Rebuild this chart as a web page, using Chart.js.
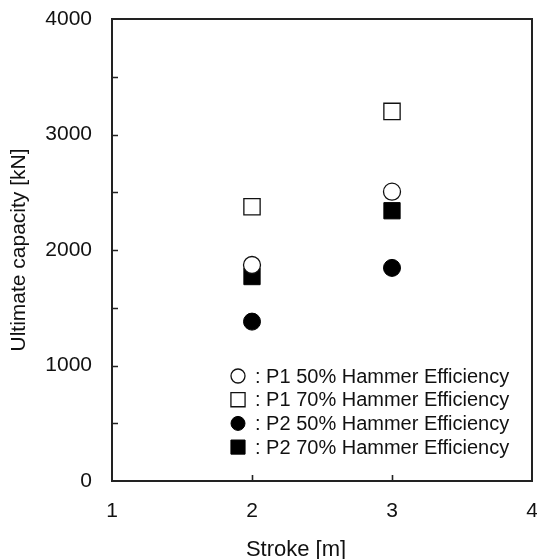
<!DOCTYPE html>
<html>
<head>
<meta charset="utf-8">
<script src="https://cdn.jsdelivr.net/npm/chart.js@4"></script>
<style>
  html, body { margin: 0; padding: 0; background: #fff; }
</style>
</head>
<body>
<canvas id="grafico" width="537" height="559"></canvas>
<script>
// dados
const strokes = [2, 3];
const p1_50 = [1870, 2505];
const p1_70 = [2375, 3200];
const p2_50 = [1380, 1845];
const p2_70 = [1770, 2340];
const seriesLabels = [
  'P1 50% Hammer Efficiency',
  'P1 70% Hammer Efficiency',
  'P2 50% Hammer Efficiency',
  'P2 70% Hammer Efficiency'
];
const xTitle = 'Stroke [m]';
const yTitle = 'Ultimate capacity [kN]';
const xRange = [1, 4];
const yRange = [0, 4000];

const FONT = '"Liberation Sans", Arial, sans-serif';

function pts(ys) {
  return strokes.map((x, i) => ({ x: x, y: ys[i] }));
}

// sem folga extra para os rótulos nas pontas (o "4" fica cortado como no original)
function noPadding(s) {
  s.paddingLeft = s.paddingRight = s.paddingTop = s.paddingBottom = 0;
}

// moldura + marcas para dentro
const framePlugin = {
  id: 'frame',
  afterDatasetsDraw(chart) {
    const { ctx, chartArea: a, scales } = chart;
    ctx.save();
    ctx.strokeStyle = '#222';
    ctx.lineWidth = 1.6;
    ctx.beginPath();
    scales.y.ticks.forEach(t => {
      if (t.value <= yRange[0] || t.value >= yRange[1]) return;
      const y = Math.round(scales.y.getPixelForValue(t.value)) + 0.5;
      ctx.moveTo(a.left, y);
      ctx.lineTo(a.left + 6, y);
    });
    scales.x.ticks.forEach(t => {
      if (t.value <= xRange[0] || t.value >= xRange[1]) return;
      const x = Math.round(scales.x.getPixelForValue(t.value)) + 0.5;
      ctx.moveTo(x, a.bottom);
      ctx.lineTo(x, a.bottom - 6);
    });
    ctx.stroke();
    ctx.lineWidth = 2;
    ctx.strokeRect(a.left, a.top, a.right - a.left, a.bottom - a.top);

    // título do eixo x (no original fica um pouco à esquerda do centro)
    ctx.fillStyle = '#111';
    ctx.font = '22px ' + FONT;
    ctx.textAlign = 'center';
    ctx.textBaseline = 'middle';
    ctx.fillText(xTitle, 296, 550);
    ctx.restore();
  }
};

// legenda dentro da área do gráfico
const legendPlugin = {
  id: 'insideLegend',
  afterDraw(chart) {
    const { ctx, chartArea: a } = chart;
    ctx.save();
    ctx.font = '20px ' + FONT;
    ctx.textBaseline = 'middle';
    chart.data.datasets.forEach((ds, i) => {
      const x = a.right - 294;
      const y = a.bottom - 105 + i * 23.7;
      ctx.fillStyle = ds.backgroundColor;
      ctx.strokeStyle = ds.borderColor;
      ctx.lineWidth = ds.borderWidth;
      Chart.helpers.drawPoint(ctx, {
        pointStyle: ds.pointStyle,
        radius: ds.pointStyle === 'rect' ? 10 : 7,
        borderWidth: ds.borderWidth
      }, x, y);
      ctx.fillStyle = '#111';
      ctx.fillText(': ' + ds.label, x + 17, y + 1);
    });
    ctx.restore();
  }
};

const ctx = document.getElementById('grafico').getContext('2d');
const chart = new Chart(ctx, {
  type: 'scatter',
  data: {
    datasets: [
      { label: seriesLabels[0], data: pts(p1_50), pointStyle: 'circle', pointRadius: 8.5,
        backgroundColor: '#fff', borderColor: '#111', borderWidth: 1.3 },
      { label: seriesLabels[1], data: pts(p1_70), pointStyle: 'rect', pointRadius: 11.5,
        backgroundColor: '#fff', borderColor: '#111', borderWidth: 1.3 },
      { label: seriesLabels[2], data: pts(p2_50), pointStyle: 'circle', pointRadius: 8.5,
        backgroundColor: '#000', borderColor: '#000', borderWidth: 1 },
      { label: seriesLabels[3], data: pts(p2_70), pointStyle: 'rect', pointRadius: 11.5,
        backgroundColor: '#000', borderColor: '#000', borderWidth: 1 }
    ]
  },
  options: {
    responsive: false,
    animation: false,
    devicePixelRatio: 1,
    layout: { autoPadding: false, padding: { top: 19, right: 5, left: 0, bottom: 0 } },
    plugins: {
      legend: { display: false },
      tooltip: { enabled: false }
    },
    scales: {
      x: {
        type: 'linear',
        min: xRange[0],
        max: xRange[1],
        grid: { display: false, drawTicks: false },
        border: { display: false },
        ticks: { stepSize: 1, padding: 18, color: '#111', font: { family: FONT, size: 21 } },
        title: { display: false },
        afterFit(s) { s.height = 78; noPadding(s); }
      },
      y: {
        min: yRange[0],
        max: yRange[1],
        grid: { display: false, drawTicks: false },
        border: { display: false },
        ticks: {
          stepSize: 500, autoSkip: false, padding: 20, color: '#111',
          font: { family: FONT, size: 21 },
          callback: v => (v % 1000 === 0 ? v : '')
        },
        title: { display: true, text: yTitle, color: '#111',
                 font: { family: FONT, size: 21 }, padding: { top: 7, bottom: 0 } },
        afterFit(s) { s.width = 112; noPadding(s); }
      }
    }
  },
  plugins: [framePlugin, legendPlugin]
});
</script>
</body>
</html>
